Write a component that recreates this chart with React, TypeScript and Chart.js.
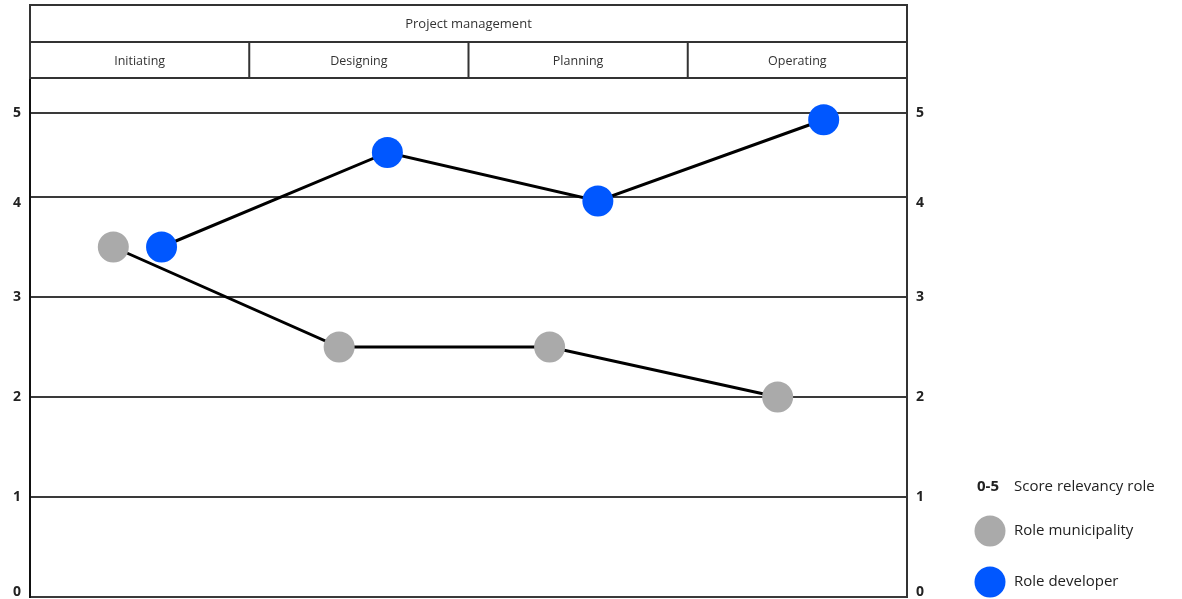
import React, { useEffect, useRef } from 'react';
import { Chart, registerables, LinearScale } from 'chart.js';

// ---- data ----
const phases = ['Initiating', 'Designing', 'Planning', 'Operating'];
const headerTitle = 'Project management';
const scoreTicks = [0, 1, 2, 3, 4, 5];
const municipalityPos = [0.38, 1.41, 2.37, 3.41];
const municipalityScores = [3.5, 2.5, 2.5, 2.0];
const developerPos = [0.6, 1.63, 2.59, 3.62];
const developerScores = [3.5, 4.53, 3.96, 4.92];
const legendKeyLabel = '0-5';
const legendKeyText = 'Score relevancy role';

// score scale that is compressed above 4, as in the drawing
const BEND_AT = 4;
const BEND_FACTOR = 0.84;
const bend = (v: number) => (v <= BEND_AT ? v : BEND_AT + (v - BEND_AT) * BEND_FACTOR);
// small vertical nudges of individual tick labels (px), as placed in the drawing
const LABEL_NUDGE: Record<string, number> = { '0': -5, '4': 6 };

class BentScale extends LinearScale {
  static id = 'bent';
  static defaults = LinearScale.defaults;
  getPixelForValue(value: number) {
    return super.getPixelForValue(bend(value));
  }
  getPadding() {
    return { left: 0, top: 0, right: 0, bottom: 0 };
  }
  _computeLabelItems(chartArea: any) {
    const items = (super._computeLabelItems as any)(chartArea);
    items.forEach((it: any) => {
      const d = LABEL_NUDGE[String(it.label)];
      if (d && it.options && it.options.translation) {
        it.options.translation = [it.options.translation[0], it.options.translation[1] + d];
      }
    });
    return items;
  }
}

Chart.register(...registerables, BentScale);

const FONT = '"Open Sans", "DejaVu Sans", sans-serif';
const BLUE = '#0057ff';
const GREY = '#aaaaaa';

const headerPlugin = {
  id: 'phaseHeader',
  afterDraw(chart: any) {
    const { ctx, chartArea } = chart;
    const x = chart.scales.x;
    const top = 5;
    const mid = 42;
    const bottom = chartArea.top;
    ctx.save();
    ctx.strokeStyle = '#333';
    ctx.lineWidth = 2;
    ctx.beginPath();
    ctx.rect(chartArea.left, top, chartArea.right - chartArea.left, bottom - top);
    ctx.moveTo(chartArea.left, mid);
    ctx.lineTo(chartArea.right, mid);
    for (let i = 1; i < phases.length; i++) {
      const px = x.getPixelForValue(i);
      ctx.moveTo(px, mid);
      ctx.lineTo(px, bottom);
    }
    ctx.stroke();
    ctx.fillStyle = '#333';
    ctx.textAlign = 'center';
    ctx.textBaseline = 'middle';
    ctx.font = `13px ${FONT}`;
    ctx.fillText(headerTitle, (chartArea.left + chartArea.right) / 2, (top + mid) / 2 + 1);
    ctx.font = `12.5px ${FONT}`;
    phases.forEach((p, i) => {
      ctx.fillText(p, x.getPixelForValue(i + 0.5), (mid + bottom) / 2 + 1);
    });
    ctx.restore();
  },
};

const legendPlugin = {
  id: 'sideLegend',
  afterDraw(chart: any) {
    const { ctx } = chart;
    const cx = 990;
    const tx = 1014;
    ctx.save();
    ctx.textBaseline = 'middle';
    ctx.textAlign = 'left';
    ctx.fillStyle = '#222';
    ctx.font = `bold 15px ${FONT}`;
    ctx.fillText(legendKeyLabel, 977, 487);
    ctx.font = `15px ${FONT}`;
    ctx.fillText(legendKeyText, tx, 487);
    const rows = [531, 582];
    chart.data.datasets.forEach((ds: any, i: number) => {
      const y = rows[i];
      ctx.beginPath();
      ctx.arc(cx, y, 15.5, 0, Math.PI * 2);
      ctx.fillStyle = ds.pointBackgroundColor;
      ctx.fill();
      ctx.fillStyle = '#222';
      ctx.fillText(ds.label, tx, y);
    });
    ctx.restore();
  },
};

export default function App() {
  const canvasRef = useRef<HTMLCanvasElement | null>(null);

  useEffect(() => {
    if (!canvasRef.current) return;
    const tickFont = { family: FONT, size: 14, weight: 'bold' as const };
    const yCommon = {
      type: 'bent' as any,
      min: 0,
      max: 5.19,
      ticks: {
        stepSize: 1,
        includeBounds: false,
        padding: 9,
        color: '#222',
        font: tickFont,
        callback: (v: any) => (scoreTicks.includes(v) ? String(v) : ''),
      },
    };
    const chart = new Chart(canvasRef.current, {
      type: 'line',
      data: {
        datasets: [
          {
            label: 'Role municipality',
            data: municipalityPos.map((x, i) => ({ x, y: municipalityScores[i] })),
            borderColor: '#000',
            borderWidth: 3,
            pointBackgroundColor: GREY,
            pointBorderWidth: 0,
            pointRadius: 15.5,
            pointHoverRadius: 15.5,
          },
          {
            label: 'Role developer',
            data: developerPos.map((x, i) => ({ x, y: developerScores[i] })),
            borderColor: '#000',
            borderWidth: 3,
            pointBackgroundColor: BLUE,
            pointBorderWidth: 0,
            pointRadius: 15.5,
            pointHoverRadius: 15.5,
          },
        ],
      },
      options: {
        animation: false,
        responsive: true,
        maintainAspectRatio: false,
        layout: { autoPadding: false, padding: { top: 78, bottom: 2, left: 0, right: 0 } },
        plugins: { legend: { display: false }, tooltip: { enabled: false } },
        scales: {
          x: { type: 'linear', min: 0, max: phases.length, display: false },
          y: {
            ...yCommon,
            position: 'left',
            grid: { color: '#3a3a3a', lineWidth: 2, drawTicks: false },
            border: { color: '#111', width: 2 },
            afterFit: (s: any) => {
              s.width = 30;
              s.paddingTop = 0;
              s.paddingBottom = 0;
            },
          },
          y2: {
            ...yCommon,
            position: 'right',
            grid: { display: false, drawTicks: false },
            border: { color: '#333', width: 2 },
            afterFit: (s: any) => {
              s.width = 275;
              s.paddingTop = 0;
              s.paddingBottom = 0;
            },
          },
        } as any,
      },
      plugins: [headerPlugin, legendPlugin],
    });
    return () => chart.destroy();
  }, []);

  return (
    <div style={{ position: 'fixed', left: 0, top: 0, width: 1182, height: 599, background: '#fff' }}>
      <canvas ref={canvasRef} />
    </div>
  );
}
